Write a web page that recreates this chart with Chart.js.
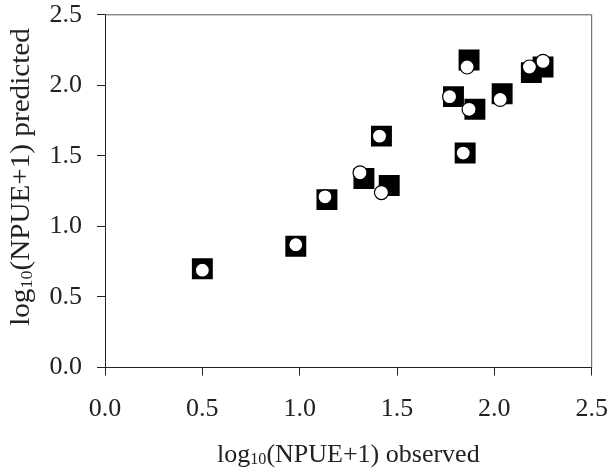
<!DOCTYPE html>
<html>
<head>
<meta charset="utf-8">
<script src="https://cdn.jsdelivr.net/npm/chart.js@4"></script>
<style>
  html, body { margin: 0; padding: 0; background: #fff; }
  #wrap { width: 608px; height: 472px; }
</style>
</head>
<body>
<div id="wrap"><canvas id="chart" width="608" height="472"></canvas></div>
<script>
// Observed vs predicted, log10(NPUE+1)
const squareX = [0.50, 0.98, 1.14, 1.33, 1.46, 1.42, 1.79, 1.85, 1.87, 1.90, 2.04, 2.19, 2.25];
const squareY = [0.70, 0.86, 1.19, 1.34, 1.29, 1.64, 1.92, 1.52, 2.18, 1.83, 1.94, 2.09, 2.13];
const circleX = [0.50, 0.98, 1.13, 1.31, 1.42, 1.41, 1.77, 1.84, 1.86, 1.87, 2.03, 2.18, 2.25];
const circleY = [0.69, 0.87, 1.21, 1.38, 1.24, 1.64, 1.92, 1.52, 2.13, 1.83, 1.90, 2.13, 2.17];
const tickValues = [0, 0.5, 1.0, 1.5, 2.0, 2.5];

const FONT = '"Liberation Serif", "Times New Roman", serif';
const INK = '#222';

function toPoints(xs, ys) {
  return xs.map((x, i) => ({ x: x, y: ys[i] }));
}

// draw "log10(NPUE+1) ..." with a real subscript
function drawTitle(ctx, rest, size, sx) {
  const parts = [
    { t: 'log', s: size, dy: 0 },
    { t: '10', s: size * 0.62, dy: size * 0.2 },
    { t: rest, s: size, dy: 0 }
  ];
  let total = 0;
  parts.forEach(p => { ctx.font = p.s + 'px ' + FONT; p.w = ctx.measureText(p.t).width; total += p.w; });
  ctx.scale(sx, 1);
  let x = -total / 2;
  ctx.textBaseline = 'middle';
  ctx.textAlign = 'left';
  ctx.fillStyle = INK;
  parts.forEach(p => {
    ctx.font = p.s + 'px ' + FONT;
    ctx.fillText(p.t, x, p.dy);
    x += p.w;
  });
}

const framePlugin = {
  id: 'frame',
  afterDraw(chart) {
    const { ctx, chartArea: a } = chart;
    ctx.save();
    ctx.strokeStyle = '#555';
    ctx.lineWidth = 1;
    ctx.beginPath();
    ctx.moveTo(a.left, a.top);
    ctx.lineTo(a.right, a.top);
    ctx.lineTo(a.right, a.bottom);
    ctx.stroke();

    ctx.save();
    ctx.translate((a.left + a.right) / 2, 455);
    drawTitle(ctx, '(NPUE+1) observed', 26, 1);
    ctx.restore();

    ctx.save();
    ctx.translate(22, 177);
    ctx.rotate(-Math.PI / 2);
    drawTitle(ctx, '(NPUE+1) predicted', 27, 1.08);
    ctx.restore();
    ctx.restore();
  }
};

function axis(extra) {
  return Object.assign({
    type: 'linear',
    min: 0,
    max: 2.5,
    afterBuildTicks: s => { s.ticks = tickValues.map(v => ({ value: v })); },
    grid: { drawOnChartArea: false, drawTicks: true, tickLength: 8, color: INK, lineWidth: 1 },
    border: { display: true, color: INK, width: 1 }
  }, extra);
}

new Chart(document.getElementById('chart'), {
  type: 'scatter',
  data: {
    datasets: [
      {
        label: 'observed',
        data: toPoints(squareX, squareY),
        pointStyle: 'rect',
        pointRadius: 14.8,
        backgroundColor: '#000',
        borderColor: '#000',
        borderWidth: 0,
        order: 2
      },
      {
        label: 'predicted',
        data: toPoints(circleX, circleY),
        pointStyle: 'circle',
        pointRadius: 7,
        backgroundColor: '#fff',
        borderColor: '#000',
        borderWidth: 1.2,
        order: 1
      }
    ]
  },
  options: {
    responsive: false,
    devicePixelRatio: 1,
    animation: false,
    layout: { padding: { top: 14.5, right: 16.3, left: 0, bottom: 0 } },
    plugins: { legend: { display: false }, tooltip: { enabled: false } },
    scales: {
      x: axis({
        position: 'bottom',
        ticks: { callback: v => v.toFixed(1), color: INK, font: { family: FONT, size: 26 }, padding: 18, maxRotation: 0 },
        afterFit: s => { s.height = 104.5; s.paddingLeft = 0; s.paddingRight = 0; }
      }),
      y: axis({
        position: 'left',
        ticks: { callback: v => v.toFixed(1), color: INK, font: { family: FONT, size: 26 }, padding: 15 },
        afterFit: s => { s.width = 105; s.paddingTop = 0; s.paddingBottom = 0; }
      })
    }
  },
  plugins: [framePlugin]
});
</script>
</body>
</html>
